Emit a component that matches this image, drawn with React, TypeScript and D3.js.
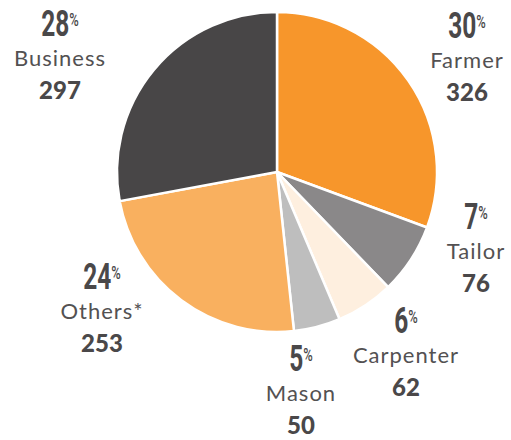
import React from "react";
import * as d3 from "d3";

// occupation breakdown
const categories = ["Farmer", "Tailor", "Carpenter", "Mason", "Others*", "Business"];
const counts = [326, 76, 62, 50, 253, 297];
const percents = [30, 7, 6, 5, 24, 28];
const colors = ["#F7962B", "#8A8889", "#FEEFDF", "#BEBEBE", "#F9B05F", "#484647"];

// label anchor: x = centre of the text block, y = baseline of the name line
const labelAnchors: [number, number][] = [
  [467, 68],
  [476, 259],
  [406, 363],
  [301, 401],
  [102, 319],
  [60, 66],
];

const width = 511,
  height = 440;
const cx = 277,
  cy = 172,
  radius = 160;

interface ISlice {
  name: string;
  value: number;
  pct: number;
  color: string;
}

const slices: ISlice[] = categories.map((name, i) => ({
  name,
  value: counts[i],
  pct: percents[i],
  color: colors[i],
}));

export default function App(): JSX.Element {
  const pie = d3
    .pie<ISlice>()
    .sort(null)
    .value((d) => d.value);
  const arc = d3.arc<d3.PieArcDatum<ISlice>>().innerRadius(0).outerRadius(radius);
  const arcs = pie(slices);

  return (
    <svg
      width={width}
      height={height}
      style={{ position: "absolute", left: 0, top: 0, background: "#fff" }}
    >
      <g transform={`translate(${cx},${cy})`}>
        {arcs.map((a, i) => (
          <path key={i} d={arc(a) || ""} fill={a.data.color} stroke="#fff" strokeWidth={2.5} strokeLinejoin="round" />
        ))}
      </g>
      {slices.map((d, i) => {
        const [x, y] = labelAnchors[i];
        return (
          <g key={d.name}>
            <g transform={`translate(${x},${y - 30}) scale(0.68,1)`}>
              <text
                x={0}
                y={0}
                textAnchor="middle"
                fontFamily="Roboto"
                fontWeight={700}
                fontSize={36}
                fill="#4a4849"
              >
                {d.pct}
                <tspan fontSize={19} fontWeight={500} dy={-10}>
                  %
                </tspan>
              </text>
            </g>
            <text
              x={x}
              y={y}
              textAnchor="middle"
              fontFamily="Lato"
              fontWeight={400}
              fontSize={22}
              letterSpacing={1}
              fill="#535152"
            >
              {d.name}
            </text>
            <text
              x={x}
              y={y + 33}
              textAnchor="middle"
              fontFamily="Lato"
              fontWeight={900}
              fontSize={24}
              fill="#4a4849"
            >
              {d.value}
            </text>
          </g>
        );
      })}
    </svg>
  );
}
